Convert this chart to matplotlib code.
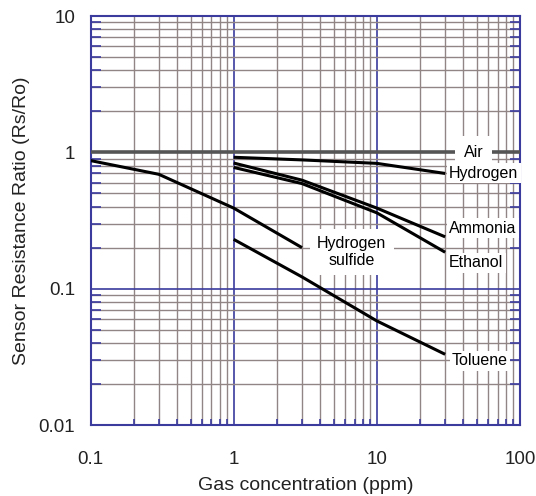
import matplotlib
matplotlib.use("Agg")
import matplotlib.pyplot as plt
from matplotlib.ticker import LogLocator, FixedLocator, NullFormatter

plt.rcParams['font.family'] = ['Liberation Sans', 'DejaVu Sans']

# ---- data ----
air_x = [0.1, 100]
air_y = [1.0, 1.0]
hydrogen_x = [1, 3, 10, 30]
hydrogen_y = [0.92, 0.88, 0.83, 0.70]
ammonia_x = [1, 3, 10, 30]
ammonia_y = [0.835, 0.625, 0.39, 0.24]
ethanol_x = [1, 3, 10, 30]
ethanol_y = [0.775, 0.59, 0.36, 0.185]
h2s_x = [0.1, 0.3, 1, 3]
h2s_y = [0.87, 0.69, 0.39, 0.20]
toluene_x = [1, 3, 10, 30]
toluene_y = [0.23, 0.122, 0.058, 0.033]

x_ticks = [0.1, 1, 10, 100]
x_tick_labels = ["0.1", "1", "10", "100"]
y_ticks = [0.01, 0.1, 1, 10]
y_tick_labels = ["0.01", "0.1", "1", "10"]

major_col = '#3b3b9e'
minor_col = '#918585'

fig = plt.figure(figsize=(5.36, 4.96), dpi=100)
ax = fig.add_axes([90.5/536, 1-425/496, (520-90.5)/536, (425-16)/496])
ax.set_xscale('log')
ax.set_yscale('log')
ax.set_xlim(0.1, 100)
ax.set_ylim(0.01, 10)

ax.xaxis.set_major_locator(FixedLocator(x_ticks))
ax.yaxis.set_major_locator(FixedLocator(y_ticks))
ax.set_xticklabels(x_tick_labels)
ax.set_yticklabels(y_tick_labels)
ax.xaxis.set_minor_locator(LogLocator(base=10, subs=range(2, 10)))
ax.yaxis.set_minor_locator(LogLocator(base=10, subs=range(2, 10)))
ax.xaxis.set_minor_formatter(NullFormatter())
ax.yaxis.set_minor_formatter(NullFormatter())

ax.grid(which='minor', color=minor_col, lw=1.0, zorder=0)
ax.grid(which='major', color=major_col, lw=1.2, zorder=0)
ax.set_axisbelow(True)

for s in ax.spines.values():
    s.set_color(major_col)
    s.set_linewidth(1.5)

ax.tick_params(which='major', length=0, labelsize=13.5, colors='#222222')
ax.tick_params(axis='x', which='major', pad=19)
ax.tick_params(axis='y', which='major', pad=11)
ax.tick_params(which='minor', direction='in', color=major_col, width=1.2,
               top=False, right=True, bottom=True, left=True)
ax.tick_params(axis='y', which='minor', length=7)
ax.tick_params(axis='x', which='minor', length=4)

ax.plot(air_x, air_y, color='#555555', lw=2.6, zorder=3)
for xs, ys in [(hydrogen_x, hydrogen_y), (ammonia_x, ammonia_y),
               (ethanol_x, ethanol_y), (h2s_x, h2s_y), (toluene_x, toluene_y)]:
    ax.plot(xs, ys, color='black', lw=2.2, zorder=3, solid_capstyle='butt')

box = dict(facecolor='white', edgecolor='none', boxstyle='square,pad=0.15')
fs = 11.5
ax.text(47.6, 1.0, "Air", ha='center', va='center', fontsize=fs, zorder=4,
        bbox=dict(facecolor='white', edgecolor='none', boxstyle='square,pad=0.55'))
ax.text(32.0, 0.703, "Hydrogen", ha='left', va='center', fontsize=fs, zorder=4, bbox=box)
ax.text(32.0, 0.278, "Ammonia", ha='left', va='center', fontsize=fs, zorder=4, bbox=box)
ax.text(32.0, 0.155, "Ethanol", ha='left', va='center', fontsize=fs, zorder=4, bbox=box)
ax.text(33.5, 0.0295, "Toluene", ha='left', va='center', fontsize=fs, zorder=4, bbox=box)
ax.text(6.68, 0.186, "Hydrogen\nsulfide", ha='center', va='center', fontsize=fs,
        zorder=4, linespacing=1.2,
        bbox=dict(facecolor='white', edgecolor='none', boxstyle='square,pad=0.45'))

ax.set_xlabel("Gas concentration (ppm)", fontsize=14, color='#222222')
ax.set_ylabel("Sensor Resistance Ratio (Rs/Ro)", fontsize=14, color='#222222')
ax.xaxis.set_label_coords(0.5, -0.128)
ax.yaxis.set_label_coords(-0.14, 0.5)

fig.savefig("out.png", dpi=100, facecolor='white')
